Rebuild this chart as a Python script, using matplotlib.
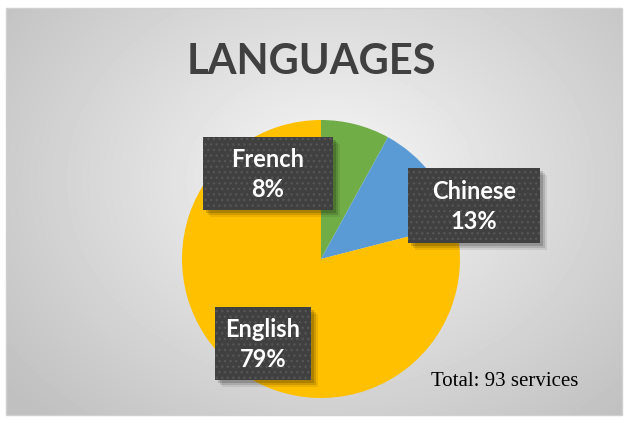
import numpy as np
import matplotlib
matplotlib.use("Agg")
import matplotlib.pyplot as plt
from matplotlib.patches import Rectangle

# data
languages = ["French", "Chinese", "English"]
shares = [8, 13, 79]
colors = ["#70AD47", "#5B9BD5", "#FFC000"]
total_services = 93

W, H = 628, 423
fig = plt.figure(figsize=(W / 100, H / 100), dpi=100)
fig.patch.set_facecolor("white")

# background with radial gradient, pixel coords
bg = fig.add_axes([0, 0, 1, 1])
bg.set_xlim(0, W)
bg.set_ylim(H, 0)
bg.axis("off")
x0, y0, x1, y1 = 6, 8, 622, 415
yy, xx = np.mgrid[y0:y1, x0:x1]
d = np.sqrt(((xx - 330) / 420.0) ** 2 + ((yy - 180) / 330.0) ** 2)
shade = np.clip(0.97 - 0.22 * d, 0.75, 0.97)
bg.imshow(shade, cmap="gray", vmin=0, vmax=1, extent=[x0, x1, y1, y0], aspect="auto")
bg.add_patch(Rectangle((x0, y0), x1 - x0, y1 - y0, fill=False, ec="#d0d0d0", lw=1))
bg.set_xlim(0, W)
bg.set_ylim(H, 0)

bg.text(311, 62, "LANGUAGES", ha="center", va="center", fontsize=30,
        fontweight="bold", color="#404040", family="Lato")
bg.text(431, 381, f"Total: {total_services} services", ha="left", va="center",
        fontsize=15, color="black", family="Liberation Serif")

# pie
cx, cy, r = 321, 259, 139
pax = fig.add_axes([(cx - r) / W, (H - cy - r) / H, 2 * r / W, 2 * r / H])
pax.pie(shares, colors=colors, startangle=90, counterclock=False,
        wedgeprops=dict(linewidth=0))
pax.set_xlim(-1, 1)
pax.set_ylim(-1, 1)
pax.set_aspect("equal")
pax.axis("off")

# label boxes on top
top = fig.add_axes([0, 0, 1, 1])
top.set_xlim(0, W)
top.set_ylim(H, 0)
top.axis("off")
top.patch.set_alpha(0)

boxes = [(203, 137, 130, 73), (408, 168, 132, 75), (215, 307, 96, 73)]
for (bx, by, bw, bh), name, pct in zip(boxes, languages, shares):
    for k, a in [(7, 0.08), (5, 0.12), (3, 0.16)]:
        top.add_patch(Rectangle((bx + k, by + k), bw, bh, fc="black", ec="none", alpha=a))
    top.add_patch(Rectangle((bx, by), bw, bh, fc="#404040", ec="none"))
    top.add_patch(Rectangle((bx, by), bw, bh, fill=False, ec="#555555", lw=0, hatch="..."))
    top.text(bx + bw / 2, by + bh / 2 + 1, f"{name}\n{pct}%", ha="center", va="center",
             fontsize=17, fontweight="bold", color="white", family="Lato",
             linespacing=1.4)

fig.savefig("out.png", dpi=100)
